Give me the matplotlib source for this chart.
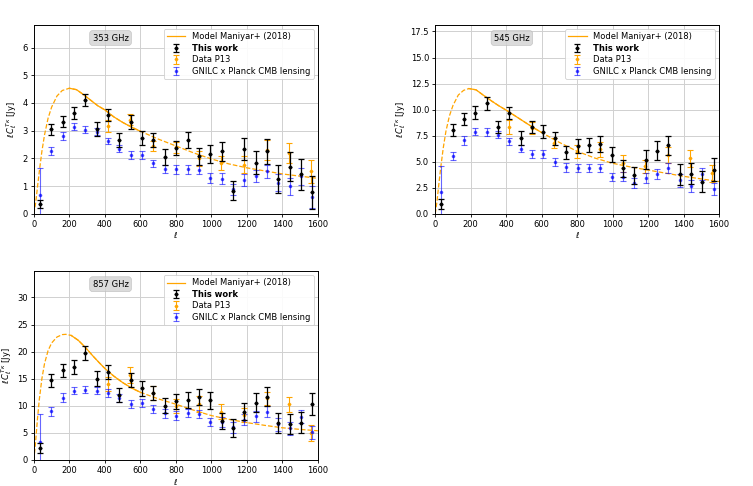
import numpy as np
import matplotlib
matplotlib.use("Agg")
from matplotlib import pyplot as plt

# multipole bins
ell_bins = [33, 98, 162, 225, 290, 354, 418, 482, 546, 610, 674, 738, 802,
            866, 930, 994, 1058, 1122, 1186, 1250, 1314, 1378, 1442, 1506, 1570]
ell_blue = [35, 98, 162, 225, 290, 354, 418, 482, 546, 610, 674, 738, 802,
            866, 930, 994, 1058, 1122, 1186, 1250, 1314, 1378, 1442, 1506, 1570]
ell_p13 = [416, 544, 672, 800, 928, 1056, 1184, 1312, 1438, 1562]

# 353 GHz
work_353 = [0.36, 3.05, 3.33, 3.63, 4.11, 3.07, 3.57, 2.65, 3.30, 2.75, 2.65, 2.05, 2.37,
            2.67, 2.07, 2.15, 2.25, 0.84, 2.35, 1.85, 2.25, 1.26, 1.70, 1.42, 0.77]
work_353_err = [0.15, 0.2, 0.2, 0.22, 0.22, 0.25, 0.22, 0.25, 0.25, 0.25, 0.25, 0.28, 0.25,
                0.3, 0.3, 0.33, 0.35, 0.35, 0.4, 0.42, 0.45, 0.5, 0.52, 0.55, 0.6]
gnilc_353 = [0.69, 2.27, 2.81, 3.14, 3.04, 2.96, 2.63, 2.35, 2.12, 2.12, 1.83, 1.62, 1.60,
             1.60, 1.59, 1.29, 1.26, 0.88, 1.23, 1.37, 1.53, 1.13, 0.99, 1.35, 0.60]
gnilc_353_err = [0.98, 0.15, 0.15, 0.13, 0.12, 0.12, 0.12, 0.13, 0.13, 0.13, 0.13, 0.14, 0.15,
                 0.15, 0.17, 0.17, 0.2, 0.2, 0.22, 0.22, 0.24, 0.3, 0.3, 0.3, 0.4]
p13_353 = [3.17, 3.39, 2.43, 2.40, 2.00, 1.83, 1.77, 2.31, 2.19, 1.53]
p13_353_err = [0.2, 0.2, 0.18, 0.2, 0.28, 0.25, 0.3, 0.35, 0.35, 0.4]
model_ell_353 = [0, 10, 20, 30, 45, 60, 80, 100, 130, 160, 200, 240, 280, 320, 360, 400, 450,
                 500, 550, 600, 700, 800, 900, 1000, 1100, 1200, 1300, 1400, 1500, 1600]
model_353 = [0.0, 0.4, 0.95, 1.5, 2.25, 2.85, 3.45, 3.85, 4.25, 4.45, 4.53, 4.48, 4.3, 4.1,
             3.9, 3.75, 3.5, 3.3, 3.13, 2.98, 2.7, 2.45, 2.2, 1.98, 1.8, 1.66, 1.55, 1.44,
             1.36, 1.28]

# 545 GHz
work_545 = [0.96, 8.06, 9.12, 9.72, 10.59, 8.32, 9.66, 7.26, 8.32, 7.90, 7.23, 5.89, 6.53,
            6.59, 6.69, 5.69, 4.38, 3.68, 5.18, 6.05, 6.56, 3.81, 3.84, 3.10, 4.22]
work_545_err = [0.45, 0.55, 0.55, 0.6, 0.6, 0.6, 0.6, 0.65, 0.6, 0.6, 0.6, 0.65, 0.65,
                0.7, 0.75, 0.75, 0.8, 0.8, 0.9, 0.9, 0.9, 1.0, 1.0, 1.0, 1.1]
gnilc_545 = [2.05, 5.57, 7.04, 7.90, 7.84, 7.58, 6.97, 6.24, 5.73, 5.73, 4.96, 4.45, 4.38,
             4.38, 4.38, 3.52, 3.58, 2.94, 3.42, 3.84, 4.38, 3.20, 2.69, 3.80, 2.40]
gnilc_545_err = [2.5, 0.4, 0.4, 0.35, 0.35, 0.35, 0.35, 0.35, 0.35, 0.35, 0.35, 0.4, 0.4,
                 0.4, 0.4, 0.4, 0.45, 0.5, 0.5, 0.5, 0.5, 0.6, 0.6, 0.6, 0.6]
p13_545 = [8.32, 8.22, 6.78, 5.98, 6.20, 4.86, 4.55, 5.66, 5.34, 3.90]
p13_545_err = [0.7, 0.6, 0.5, 0.6, 0.7, 0.8, 0.6, 0.8, 0.8, 0.8]
model_ell_545 = [0, 10, 20, 30, 45, 60, 80, 100, 130, 160, 190, 230, 270, 320, 360, 400, 450,
                 500, 550, 600, 700, 800, 900, 1000, 1100, 1200, 1300, 1400, 1500, 1600]
model_545 = [0.0, 1.2, 2.8, 4.3, 6.3, 7.9, 9.4, 10.4, 11.4, 11.85, 12.02, 11.9, 11.4, 10.8,
             10.35, 9.95, 9.4, 8.85, 8.3, 7.8, 6.85, 6.0, 5.35, 4.85, 4.5, 4.2, 3.9, 3.6,
             3.35, 3.1]

# 857 GHz
work_857 = [2.16, 14.7, 16.6, 17.1, 19.7, 15.0, 16.3, 12.0, 14.7, 13.2, 12.4, 10.0, 10.8,
            11.1, 11.6, 11.0, 7.2, 5.9, 8.9, 10.6, 11.7, 6.8, 6.6, 6.9, 10.3]
work_857_err = [0.9, 1.2, 1.2, 1.3, 1.3, 1.4, 1.3, 1.3, 1.3, 1.3, 1.3, 1.4, 1.4,
                1.5, 1.5, 1.5, 1.5, 1.6, 1.6, 1.7, 1.8, 1.8, 1.8, 2.0, 2.0]
gnilc_857 = [3.4, 9.0, 11.5, 12.8, 13.0, 12.8, 12.4, 11.4, 10.3, 10.5, 9.4, 8.6, 8.2,
             8.7, 8.5, 7.0, 7.0, 6.0, 7.4, 8.1, 8.9, 6.6, 5.9, 8.0, 5.1]
gnilc_857_err = [5.0, 0.8, 0.8, 0.7, 0.7, 0.7, 0.7, 0.7, 0.7, 0.7, 0.7, 0.8, 0.8,
                 0.8, 0.8, 0.8, 0.9, 1.0, 1.0, 1.0, 1.0, 1.2, 1.2, 1.2, 1.2]
p13_857 = [14.0, 15.7, 12.3, 9.9, 10.3, 8.9, 8.3, 11.4, 10.3, 5.0]
p13_857_err = [1.3, 1.5, 1.3, 1.3, 1.5, 1.4, 1.3, 1.2, 1.4, 1.5]
model_ell_857 = [0, 10, 20, 30, 45, 60, 80, 100, 130, 160, 180, 210, 250, 290, 330, 370, 400,
                 450, 500, 550, 600, 700, 800, 900, 1000, 1100, 1200, 1300, 1400, 1500, 1600]
model_857 = [0.0, 3.5, 7.5, 11.0, 15.0, 17.8, 20.2, 21.6, 22.7, 23.15, 23.2, 23.0, 22.1,
             20.8, 19.3, 17.9, 16.9, 15.5, 14.3, 13.3, 12.5, 11.3, 10.3, 9.2, 8.2, 7.5, 6.9,
             6.4, 5.95, 5.65, 5.4]

FS = 6


def plot_panel(ax, label, ymax, yticks, model_ell, model, work, work_err,
               p13, p13_err, gnilc, gnilc_err):
    model_ell = np.array(model_ell)
    model = np.array(model)
    # solid over the fitted range, dashed elsewhere
    fit = (model_ell >= 190) & (model_ell <= 600)
    ax.plot(model_ell, model, color='orange', ls='--', lw=0.9, zorder=2)
    ax.plot(model_ell[fit], model[fit], color='orange', lw=0.9, zorder=2,
            label='Model Maniyar+ (2018)')

    ax.errorbar(ell_bins, work, yerr=work_err, fmt='D', color='black', ms=1.6,
                elinewidth=0.9, capsize=2.5, capthick=0.9, label='This work', zorder=4)
    ax.errorbar(ell_p13, p13, yerr=p13_err, fmt='D', color='orange', ms=1.4,
                elinewidth=0.8, capsize=2.5, capthick=0.8, label='Data P13', zorder=3)
    ax.errorbar(ell_blue, gnilc, yerr=gnilc_err, fmt='o', color='blue', alpha=0.6,
                ms=1.6, elinewidth=0.8, capsize=2.5, capthick=0.8,
                label='GNILC x Planck CMB lensing', zorder=3)

    ax.set_xlim(0, 1600)
    ax.set_ylim(0, ymax)
    ax.set_xticks(np.arange(0, 1601, 200))
    ax.set_yticks(yticks)
    ax.grid(True, color='#d0d0d0', lw=0.7)
    ax.set_axisbelow(True)
    ax.tick_params(labelsize=FS, length=2.5, width=0.6, pad=2)
    for s in ax.spines.values():
        s.set_linewidth(0.7)
    ax.set_ylabel(r'$\ell\, C_\ell^{T\kappa}$ [Jy]', fontsize=FS, labelpad=2)
    ax.set_xlabel(r'$\ell$', fontsize=FS, labelpad=1)

    ax.text(0.27, 0.93, label, transform=ax.transAxes, fontsize=FS, ha='center',
            va='center', bbox=dict(boxstyle='round,pad=0.35', fc='lightgray',
                                   ec='#bbbbbb', alpha=0.8, lw=0.5))
    leg = ax.legend(loc='upper right', fontsize=FS, framealpha=0.9, borderpad=0.4,
                    labelspacing=0.3, handlelength=2.2, edgecolor='#cccccc')
    leg.get_frame().set_linewidth(0.6)
    leg.get_texts()[1].set_fontweight('bold')


def main():
    fig = plt.figure(figsize=(7.53, 4.86), dpi=100)
    ax1 = fig.add_axes([0.045, 0.560, 0.377, 0.389])
    ax2 = fig.add_axes([0.578, 0.560, 0.377, 0.389])
    ax3 = fig.add_axes([0.045, 0.0535, 0.377, 0.389])

    plot_panel(ax1, '353 GHz', 6.82, np.arange(0, 7, 1), model_ell_353, model_353,
               work_353, work_353_err, p13_353, p13_353_err, gnilc_353, gnilc_353_err)
    plot_panel(ax2, '545 GHz', 18.14, np.arange(0, 17.6, 2.5), model_ell_545, model_545,
               work_545, work_545_err, p13_545, p13_545_err, gnilc_545, gnilc_545_err)
    plot_panel(ax3, '857 GHz', 34.9, np.arange(0, 31, 5), model_ell_857, model_857,
               work_857, work_857_err, p13_857, p13_857_err, gnilc_857, gnilc_857_err)

    fig.savefig('out.png', dpi=100)


if __name__ == '__main__':
    main()
